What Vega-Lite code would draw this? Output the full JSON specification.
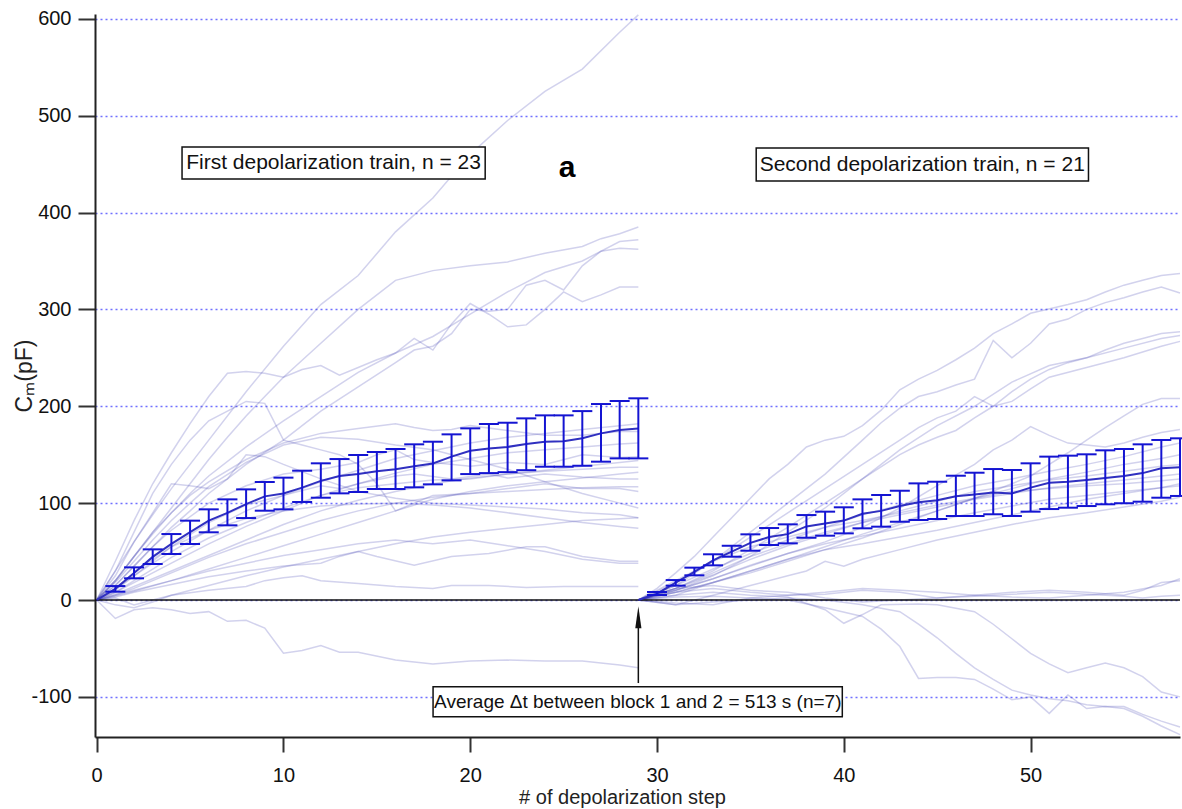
{
"$schema": "https://vega.github.io/schema/vega-lite/v6.json",
"width": 1085, "height": 723,
"autosize": {"type": "none"},
"padding": {"left": 95, "top": 14, "right": 2, "bottom": 72},
"background": "white",
"config": {"view": {"stroke": null}, "font": "Liberation Sans"},
"data": {"values": [{}]},
"datasets": {
"traces": [
{"s":"A","x":0,"y":0},{"s":"A","x":1,"y":30},{"s":"A","x":2,"y":60},{"s":"A","x":3,"y":88},{"s":"A","x":4,"y":115},{"s":"A","x":5,"y":140},{"s":"A","x":6,"y":165},{"s":"A","x":8,"y":215},{"s":"A","x":10,"y":262},{"s":"A","x":12,"y":305},{"s":"A","x":14,"y":335},{"s":"A","x":16,"y":380},{"s":"A","x":18,"y":415},{"s":"A","x":20,"y":460},{"s":"A","x":22,"y":495},{"s":"A","x":24,"y":525},{"s":"A","x":26,"y":548},{"s":"A","x":28,"y":586},{"s":"A","x":29,"y":604},
{"s":"B","x":0,"y":0},{"s":"B","x":1,"y":20},{"s":"B","x":2,"y":45},{"s":"B","x":3,"y":70},{"s":"B","x":4,"y":95},{"s":"B","x":5,"y":120},{"s":"B","x":6,"y":145},{"s":"B","x":7,"y":168},{"s":"B","x":8,"y":190},{"s":"B","x":9,"y":210},{"s":"B","x":10,"y":230},{"s":"B","x":12,"y":265},{"s":"B","x":14,"y":300},{"s":"B","x":16,"y":330},{"s":"B","x":18,"y":340},{"s":"B","x":20,"y":345},{"s":"B","x":22,"y":349},{"s":"B","x":24,"y":358},{"s":"B","x":26,"y":365},{"s":"B","x":27,"y":373},{"s":"B","x":28,"y":378},{"s":"B","x":29,"y":385},
{"s":"C","x":0,"y":0},{"s":"C","x":1,"y":40},{"s":"C","x":2,"y":82},{"s":"C","x":3,"y":120},{"s":"C","x":4,"y":152},{"s":"C","x":5,"y":182},{"s":"C","x":6,"y":210},{"s":"C","x":7,"y":234},{"s":"C","x":8,"y":236},{"s":"C","x":9,"y":234},{"s":"C","x":10,"y":230},{"s":"C","x":11,"y":238},{"s":"C","x":12,"y":242},{"s":"C","x":13,"y":232},{"s":"C","x":14,"y":240},{"s":"C","x":15,"y":248},{"s":"C","x":16,"y":255},{"s":"C","x":17,"y":270},{"s":"C","x":18,"y":258},{"s":"C","x":19,"y":285},{"s":"C","x":20,"y":306},{"s":"C","x":21,"y":295},{"s":"C","x":22,"y":282},{"s":"C","x":23,"y":284},{"s":"C","x":24,"y":300},{"s":"C","x":25,"y":318},{"s":"C","x":26,"y":308},{"s":"C","x":27,"y":315},{"s":"C","x":28,"y":323},{"s":"C","x":29,"y":323},
{"s":"D","x":0,"y":0},{"s":"D","x":1,"y":15},{"s":"D","x":2,"y":35},{"s":"D","x":3,"y":55},{"s":"D","x":4,"y":75},{"s":"D","x":5,"y":92},{"s":"D","x":6,"y":110},{"s":"D","x":8,"y":140},{"s":"D","x":10,"y":165},{"s":"D","x":12,"y":195},{"s":"D","x":14,"y":220},{"s":"D","x":16,"y":245},{"s":"D","x":17,"y":258},{"s":"D","x":18,"y":262},{"s":"D","x":19,"y":275},{"s":"D","x":20,"y":300},{"s":"D","x":21,"y":298},{"s":"D","x":22,"y":300},{"s":"D","x":23,"y":325},{"s":"D","x":24,"y":330},{"s":"D","x":25,"y":320},{"s":"D","x":26,"y":345},{"s":"D","x":27,"y":360},{"s":"D","x":28,"y":363},{"s":"D","x":29,"y":362},
{"s":"E","x":0,"y":0},{"s":"E","x":1,"y":20},{"s":"E","x":2,"y":45},{"s":"E","x":3,"y":68},{"s":"E","x":4,"y":90},{"s":"E","x":5,"y":110},{"s":"E","x":6,"y":128},{"s":"E","x":8,"y":158},{"s":"E","x":10,"y":185},{"s":"E","x":12,"y":210},{"s":"E","x":14,"y":235},{"s":"E","x":16,"y":255},{"s":"E","x":18,"y":272},{"s":"E","x":20,"y":295},{"s":"E","x":22,"y":318},{"s":"E","x":24,"y":338},{"s":"E","x":26,"y":350},{"s":"E","x":28,"y":370},{"s":"E","x":29,"y":372},
{"s":"F","x":0,"y":0},{"s":"F","x":1,"y":30},{"s":"F","x":2,"y":70},{"s":"F","x":3,"y":110},{"s":"F","x":4,"y":140},{"s":"F","x":5,"y":165},{"s":"F","x":6,"y":185},{"s":"F","x":7,"y":195},{"s":"F","x":8,"y":205},{"s":"F","x":9,"y":203},{"s":"F","x":10,"y":165},{"s":"F","x":11,"y":160},{"s":"F","x":12,"y":155},{"s":"F","x":13,"y":150},{"s":"F","x":14,"y":140},{"s":"F","x":15,"y":120},{"s":"F","x":16,"y":92},{"s":"F","x":17,"y":100},{"s":"F","x":18,"y":108},{"s":"F","x":20,"y":110},{"s":"F","x":22,"y":115},{"s":"F","x":24,"y":120},{"s":"F","x":26,"y":115},{"s":"F","x":28,"y":115},{"s":"F","x":29,"y":112},
{"s":"G","x":0,"y":0},{"s":"G","x":1,"y":18},{"s":"G","x":2,"y":40},{"s":"G","x":3,"y":62},{"s":"G","x":4,"y":82},{"s":"G","x":5,"y":100},{"s":"G","x":6,"y":117},{"s":"G","x":8,"y":142},{"s":"G","x":10,"y":160},{"s":"G","x":12,"y":168},{"s":"G","x":14,"y":166},{"s":"G","x":16,"y":160},{"s":"G","x":18,"y":155},{"s":"G","x":20,"y":145},{"s":"G","x":22,"y":135},{"s":"G","x":24,"y":122},{"s":"G","x":26,"y":110},{"s":"G","x":28,"y":100},{"s":"G","x":29,"y":95},
{"s":"H","x":0,"y":0},{"s":"H","x":1,"y":12},{"s":"H","x":2,"y":25},{"s":"H","x":3,"y":38},{"s":"H","x":4,"y":50},{"s":"H","x":6,"y":72},{"s":"H","x":8,"y":92},{"s":"H","x":10,"y":108},{"s":"H","x":12,"y":122},{"s":"H","x":14,"y":134},{"s":"H","x":16,"y":146},{"s":"H","x":18,"y":154},{"s":"H","x":20,"y":162},{"s":"H","x":22,"y":168},{"s":"H","x":24,"y":172},{"s":"H","x":26,"y":176},{"s":"H","x":28,"y":180},{"s":"H","x":29,"y":182},
{"s":"I","x":0,"y":0},{"s":"I","x":1,"y":20},{"s":"I","x":2,"y":45},{"s":"I","x":3,"y":70},{"s":"I","x":4,"y":90},{"s":"I","x":5,"y":108},{"s":"I","x":6,"y":122},{"s":"I","x":8,"y":145},{"s":"I","x":10,"y":162},{"s":"I","x":12,"y":172},{"s":"I","x":14,"y":177},{"s":"I","x":16,"y":182},{"s":"I","x":17,"y":178},{"s":"I","x":18,"y":175},{"s":"I","x":19,"y":176},{"s":"I","x":20,"y":180},{"s":"I","x":22,"y":175},{"s":"I","x":24,"y":170},{"s":"I","x":26,"y":170},{"s":"I","x":28,"y":174},{"s":"I","x":29,"y":174},
{"s":"J","x":0,"y":0},{"s":"J","x":1,"y":8},{"s":"J","x":2,"y":18},{"s":"J","x":4,"y":38},{"s":"J","x":6,"y":58},{"s":"J","x":8,"y":76},{"s":"J","x":10,"y":92},{"s":"J","x":12,"y":108},{"s":"J","x":14,"y":120},{"s":"J","x":16,"y":131},{"s":"J","x":18,"y":140},{"s":"J","x":20,"y":146},{"s":"J","x":22,"y":152},{"s":"J","x":24,"y":155},{"s":"J","x":26,"y":158},{"s":"J","x":28,"y":161},{"s":"J","x":29,"y":162},
{"s":"K","x":0,"y":0},{"s":"K","x":1,"y":15},{"s":"K","x":2,"y":35},{"s":"K","x":3,"y":55},{"s":"K","x":4,"y":72},{"s":"K","x":6,"y":100},{"s":"K","x":8,"y":118},{"s":"K","x":10,"y":130},{"s":"K","x":12,"y":135},{"s":"K","x":14,"y":142},{"s":"K","x":15,"y":150},{"s":"K","x":16,"y":155},{"s":"K","x":17,"y":145},{"s":"K","x":18,"y":142},{"s":"K","x":20,"y":138},{"s":"K","x":22,"y":142},{"s":"K","x":24,"y":140},{"s":"K","x":26,"y":150},{"s":"K","x":28,"y":147},{"s":"K","x":29,"y":148},
{"s":"L","x":0,"y":0},{"s":"L","x":1,"y":6},{"s":"L","x":2,"y":14},{"s":"L","x":4,"y":30},{"s":"L","x":6,"y":46},{"s":"L","x":8,"y":62},{"s":"L","x":10,"y":78},{"s":"L","x":12,"y":92},{"s":"L","x":14,"y":103},{"s":"L","x":16,"y":112},{"s":"L","x":18,"y":120},{"s":"L","x":20,"y":126},{"s":"L","x":22,"y":130},{"s":"L","x":24,"y":133},{"s":"L","x":26,"y":135},{"s":"L","x":28,"y":137},{"s":"L","x":29,"y":137},
{"s":"M","x":0,"y":0},{"s":"M","x":1,"y":10},{"s":"M","x":2,"y":25},{"s":"M","x":3,"y":40},{"s":"M","x":4,"y":55},{"s":"M","x":6,"y":80},{"s":"M","x":8,"y":98},{"s":"M","x":10,"y":108},{"s":"M","x":12,"y":118},{"s":"M","x":13,"y":115},{"s":"M","x":14,"y":120},{"s":"M","x":16,"y":128},{"s":"M","x":17,"y":130},{"s":"M","x":19,"y":125},{"s":"M","x":21,"y":130},{"s":"M","x":22,"y":126},{"s":"M","x":24,"y":130},{"s":"M","x":26,"y":127},{"s":"M","x":28,"y":125},{"s":"M","x":29,"y":125},
{"s":"N","x":0,"y":0},{"s":"N","x":1,"y":5},{"s":"N","x":2,"y":12},{"s":"N","x":4,"y":28},{"s":"N","x":6,"y":44},{"s":"N","x":8,"y":58},{"s":"N","x":10,"y":70},{"s":"N","x":12,"y":82},{"s":"N","x":14,"y":92},{"s":"N","x":16,"y":100},{"s":"N","x":18,"y":106},{"s":"N","x":20,"y":110},{"s":"N","x":22,"y":112},{"s":"N","x":24,"y":114},{"s":"N","x":26,"y":116},{"s":"N","x":28,"y":117},{"s":"N","x":29,"y":117},
{"s":"O","x":0,"y":0},{"s":"O","x":1,"y":25},{"s":"O","x":2,"y":60},{"s":"O","x":3,"y":90},{"s":"O","x":4,"y":120},{"s":"O","x":5,"y":118},{"s":"O","x":6,"y":115},{"s":"O","x":7,"y":125},{"s":"O","x":8,"y":150},{"s":"O","x":9,"y":148},{"s":"O","x":10,"y":140},{"s":"O","x":12,"y":125},{"s":"O","x":14,"y":112},{"s":"O","x":16,"y":105},{"s":"O","x":18,"y":100},{"s":"O","x":20,"y":98},{"s":"O","x":22,"y":96},{"s":"O","x":24,"y":94},{"s":"O","x":26,"y":90},{"s":"O","x":28,"y":88},{"s":"O","x":29,"y":85},
{"s":"P","x":0,"y":0},{"s":"P","x":1,"y":12},{"s":"P","x":2,"y":28},{"s":"P","x":3,"y":42},{"s":"P","x":4,"y":55},{"s":"P","x":6,"y":72},{"s":"P","x":8,"y":84},{"s":"P","x":10,"y":92},{"s":"P","x":12,"y":97},{"s":"P","x":14,"y":99},{"s":"P","x":16,"y":100},{"s":"P","x":18,"y":98},{"s":"P","x":20,"y":95},{"s":"P","x":22,"y":90},{"s":"P","x":24,"y":85},{"s":"P","x":26,"y":80},{"s":"P","x":28,"y":76},{"s":"P","x":29,"y":74},
{"s":"Q","x":0,"y":0},{"s":"Q","x":1,"y":5},{"s":"Q","x":2,"y":10},{"s":"Q","x":4,"y":20},{"s":"Q","x":6,"y":30},{"s":"Q","x":8,"y":38},{"s":"Q","x":10,"y":46},{"s":"Q","x":12,"y":52},{"s":"Q","x":14,"y":58},{"s":"Q","x":16,"y":62},{"s":"Q","x":17,"y":60},{"s":"Q","x":18,"y":58},{"s":"Q","x":20,"y":62},{"s":"Q","x":22,"y":56},{"s":"Q","x":24,"y":50},{"s":"Q","x":26,"y":42},{"s":"Q","x":28,"y":38},{"s":"Q","x":29,"y":38},
{"s":"R","x":0,"y":0},{"s":"R","x":1,"y":3},{"s":"R","x":2,"y":8},{"s":"R","x":4,"y":16},{"s":"R","x":6,"y":24},{"s":"R","x":8,"y":30},{"s":"R","x":10,"y":35},{"s":"R","x":12,"y":38},{"s":"R","x":13,"y":45},{"s":"R","x":14,"y":50},{"s":"R","x":15,"y":45},{"s":"R","x":17,"y":36},{"s":"R","x":19,"y":45},{"s":"R","x":21,"y":48},{"s":"R","x":23,"y":55},{"s":"R","x":24,"y":55},{"s":"R","x":26,"y":45},{"s":"R","x":28,"y":40},{"s":"R","x":29,"y":40},
{"s":"S","x":0,"y":0},{"s":"S","x":1,"y":2},{"s":"S","x":2,"y":-5},{"s":"S","x":3,"y":0},{"s":"S","x":4,"y":5},{"s":"S","x":6,"y":10},{"s":"S","x":8,"y":14},{"s":"S","x":9,"y":20},{"s":"S","x":10,"y":23},{"s":"S","x":11,"y":25},{"s":"S","x":12,"y":20},{"s":"S","x":14,"y":17},{"s":"S","x":16,"y":14},{"s":"S","x":18,"y":12},{"s":"S","x":19,"y":15},{"s":"S","x":21,"y":15},{"s":"S","x":23,"y":13},{"s":"S","x":25,"y":14},{"s":"S","x":27,"y":14},{"s":"S","x":29,"y":14},
{"s":"T","x":0,"y":0},{"s":"T","x":1,"y":-19},{"s":"T","x":2,"y":-10},{"s":"T","x":3,"y":-8},{"s":"T","x":4,"y":-10},{"s":"T","x":5,"y":-14},{"s":"T","x":6,"y":-12},{"s":"T","x":7,"y":-22},{"s":"T","x":8,"y":-21},{"s":"T","x":9,"y":-29},{"s":"T","x":10,"y":-55},{"s":"T","x":11,"y":-52},{"s":"T","x":12,"y":-47},{"s":"T","x":13,"y":-54},{"s":"T","x":14,"y":-54},{"s":"T","x":16,"y":-62},{"s":"T","x":18,"y":-66},{"s":"T","x":20,"y":-63},{"s":"T","x":22,"y":-62},{"s":"T","x":24,"y":-63},{"s":"T","x":26,"y":-63},{"s":"T","x":28,"y":-67},{"s":"T","x":29,"y":-70},
{"s":"U","x":0,"y":0},{"s":"U","x":1,"y":-5},{"s":"U","x":2,"y":-8},{"s":"U","x":3,"y":-2},{"s":"U","x":4,"y":5},{"s":"U","x":6,"y":15},{"s":"U","x":8,"y":25},{"s":"U","x":10,"y":34},{"s":"U","x":12,"y":42},{"s":"U","x":14,"y":50},{"s":"U","x":16,"y":58},{"s":"U","x":18,"y":65},{"s":"U","x":20,"y":70},{"s":"U","x":22,"y":74},{"s":"U","x":24,"y":78},{"s":"U","x":26,"y":82},{"s":"U","x":28,"y":84},{"s":"U","x":29,"y":85},
{"s":"V","x":0,"y":0},{"s":"V","x":1,"y":4},{"s":"V","x":2,"y":9},{"s":"V","x":4,"y":20},{"s":"V","x":6,"y":32},{"s":"V","x":8,"y":44},{"s":"V","x":10,"y":56},{"s":"V","x":12,"y":68},{"s":"V","x":14,"y":80},{"s":"V","x":16,"y":92},{"s":"V","x":18,"y":104},{"s":"V","x":20,"y":112},{"s":"V","x":22,"y":118},{"s":"V","x":24,"y":122},{"s":"V","x":26,"y":126},{"s":"V","x":28,"y":130},{"s":"V","x":29,"y":132},
{"s":"W","x":0,"y":0},{"s":"W","x":1,"y":8},{"s":"W","x":2,"y":20},{"s":"W","x":3,"y":32},{"s":"W","x":4,"y":44},{"s":"W","x":6,"y":64},{"s":"W","x":8,"y":80},{"s":"W","x":10,"y":95},{"s":"W","x":12,"y":108},{"s":"W","x":14,"y":116},{"s":"W","x":16,"y":120},{"s":"W","x":18,"y":124},{"s":"W","x":20,"y":125},{"s":"W","x":22,"y":130},{"s":"W","x":24,"y":134},{"s":"W","x":26,"y":138},{"s":"W","x":28,"y":142},{"s":"W","x":29,"y":144},
{"s":"N1","x":29,"y":0},{"s":"N1","x":31,"y":5},{"s":"N1","x":33,"y":8},{"s":"N1","x":35,"y":5},{"s":"N1","x":37,"y":3},{"s":"N1","x":39,"y":-10},{"s":"N1","x":40,"y":-24},{"s":"N1","x":41,"y":-15},{"s":"N1","x":42,"y":-5},{"s":"N1","x":44,"y":-4},{"s":"N1","x":45,"y":-5},{"s":"N1","x":47,"y":-12},{"s":"N1","x":48,"y":-25},{"s":"N1","x":49,"y":-40},{"s":"N1","x":50,"y":-55},{"s":"N1","x":51,"y":-66},{"s":"N1","x":52,"y":-75},{"s":"N1","x":53,"y":-70},{"s":"N1","x":54,"y":-65},{"s":"N1","x":55,"y":-70},{"s":"N1","x":56,"y":-79},{"s":"N1","x":57,"y":-95},{"s":"N1","x":58,"y":-100},
{"s":"N2","x":29,"y":0},{"s":"N2","x":31,"y":3},{"s":"N2","x":33,"y":4},{"s":"N2","x":35,"y":2},{"s":"N2","x":37,"y":0},{"s":"N2","x":39,"y":-8},{"s":"N2","x":41,"y":-17},{"s":"N2","x":42,"y":-30},{"s":"N2","x":43,"y":-48},{"s":"N2","x":44,"y":-81},{"s":"N2","x":45,"y":-80},{"s":"N2","x":46,"y":-80},{"s":"N2","x":47,"y":-82},{"s":"N2","x":48,"y":-92},{"s":"N2","x":49,"y":-103},{"s":"N2","x":50,"y":-100},{"s":"N2","x":51,"y":-117},{"s":"N2","x":52,"y":-98},{"s":"N2","x":53,"y":-112},{"s":"N2","x":54,"y":-110},{"s":"N2","x":55,"y":-112},{"s":"N2","x":56,"y":-120},{"s":"N2","x":57,"y":-130},{"s":"N2","x":58,"y":-139},
{"s":"N3","x":29,"y":0},{"s":"N3","x":31,"y":-5},{"s":"N3","x":33,"y":-2},{"s":"N3","x":35,"y":0},{"s":"N3","x":37,"y":2},{"s":"N3","x":39,"y":0},{"s":"N3","x":41,"y":-5},{"s":"N3","x":43,"y":-12},{"s":"N3","x":44,"y":-25},{"s":"N3","x":45,"y":-39},{"s":"N3","x":46,"y":-55},{"s":"N3","x":47,"y":-70},{"s":"N3","x":48,"y":-82},{"s":"N3","x":49,"y":-93},{"s":"N3","x":50,"y":-98},{"s":"N3","x":51,"y":-102},{"s":"N3","x":52,"y":-104},{"s":"N3","x":53,"y":-108},{"s":"N3","x":54,"y":-110},{"s":"N3","x":55,"y":-110},{"s":"N3","x":56,"y":-118},{"s":"N3","x":57,"y":-125},{"s":"N3","x":58,"y":-131},
{"s":"Z1","x":29,"y":0},{"s":"Z1","x":31,"y":-3},{"s":"Z1","x":33,"y":-5},{"s":"Z1","x":35,"y":2},{"s":"Z1","x":37,"y":5},{"s":"Z1","x":39,"y":8},{"s":"Z1","x":41,"y":12},{"s":"Z1","x":43,"y":10},{"s":"Z1","x":45,"y":8},{"s":"Z1","x":47,"y":5},{"s":"Z1","x":49,"y":8},{"s":"Z1","x":51,"y":10},{"s":"Z1","x":53,"y":8},{"s":"Z1","x":55,"y":5},{"s":"Z1","x":56,"y":10},{"s":"Z1","x":57,"y":18},{"s":"Z1","x":58,"y":20},
{"s":"Z2","x":29,"y":0},{"s":"Z2","x":31,"y":8},{"s":"Z2","x":33,"y":12},{"s":"Z2","x":35,"y":8},{"s":"Z2","x":37,"y":5},{"s":"Z2","x":39,"y":6},{"s":"Z2","x":41,"y":10},{"s":"Z2","x":43,"y":8},{"s":"Z2","x":45,"y":2},{"s":"Z2","x":47,"y":4},{"s":"Z2","x":49,"y":6},{"s":"Z2","x":51,"y":8},{"s":"Z2","x":53,"y":6},{"s":"Z2","x":55,"y":4},{"s":"Z2","x":56,"y":2},{"s":"Z2","x":57,"y":4},{"s":"Z2","x":58,"y":5},
{"s":"Z3","x":29,"y":0},{"s":"Z3","x":31,"y":12},{"s":"Z3","x":33,"y":15},{"s":"Z3","x":35,"y":10},{"s":"Z3","x":37,"y":8},{"s":"Z3","x":39,"y":2},{"s":"Z3","x":41,"y":-2},{"s":"Z3","x":43,"y":0},{"s":"Z3","x":45,"y":2},{"s":"Z3","x":47,"y":5},{"s":"Z3","x":49,"y":3},{"s":"Z3","x":51,"y":2},{"s":"Z3","x":53,"y":5},{"s":"Z3","x":55,"y":8},{"s":"Z3","x":57,"y":15},{"s":"Z3","x":58,"y":22},
{"s":"U1","x":29,"y":0},{"s":"U1","x":30,"y":12},{"s":"U1","x":31,"y":28},{"s":"U1","x":32,"y":45},{"s":"U1","x":33,"y":65},{"s":"U1","x":34,"y":85},{"s":"U1","x":35,"y":105},{"s":"U1","x":36,"y":125},{"s":"U1","x":37,"y":140},{"s":"U1","x":38,"y":158},{"s":"U1","x":39,"y":165},{"s":"U1","x":40,"y":169},{"s":"U1","x":41,"y":180},{"s":"U1","x":42,"y":196},{"s":"U1","x":43,"y":217},{"s":"U1","x":44,"y":228},{"s":"U1","x":45,"y":237},{"s":"U1","x":46,"y":248},{"s":"U1","x":47,"y":260},{"s":"U1","x":48,"y":275},{"s":"U1","x":49,"y":285},{"s":"U1","x":50,"y":296},{"s":"U1","x":52,"y":305},{"s":"U1","x":53,"y":310},{"s":"U1","x":54,"y":318},{"s":"U1","x":55,"y":325},{"s":"U1","x":56,"y":330},{"s":"U1","x":57,"y":335},{"s":"U1","x":58,"y":337},
{"s":"U2","x":29,"y":0},{"s":"U2","x":31,"y":15},{"s":"U2","x":33,"y":40},{"s":"U2","x":35,"y":70},{"s":"U2","x":37,"y":100},{"s":"U2","x":39,"y":130},{"s":"U2","x":41,"y":165},{"s":"U2","x":42,"y":183},{"s":"U2","x":43,"y":198},{"s":"U2","x":44,"y":210},{"s":"U2","x":45,"y":215},{"s":"U2","x":46,"y":222},{"s":"U2","x":47,"y":228},{"s":"U2","x":48,"y":268},{"s":"U2","x":49,"y":250},{"s":"U2","x":50,"y":265},{"s":"U2","x":51,"y":285},{"s":"U2","x":52,"y":290},{"s":"U2","x":53,"y":300},{"s":"U2","x":54,"y":307},{"s":"U2","x":55,"y":312},{"s":"U2","x":56,"y":318},{"s":"U2","x":57,"y":323},{"s":"U2","x":58,"y":317},
{"s":"U3","x":29,"y":0},{"s":"U3","x":31,"y":12},{"s":"U3","x":33,"y":30},{"s":"U3","x":35,"y":52},{"s":"U3","x":37,"y":75},{"s":"U3","x":39,"y":100},{"s":"U3","x":41,"y":125},{"s":"U3","x":43,"y":150},{"s":"U3","x":44,"y":160},{"s":"U3","x":45,"y":168},{"s":"U3","x":46,"y":175},{"s":"U3","x":47,"y":188},{"s":"U3","x":48,"y":200},{"s":"U3","x":49,"y":215},{"s":"U3","x":50,"y":228},{"s":"U3","x":51,"y":238},{"s":"U3","x":52,"y":245},{"s":"U3","x":53,"y":250},{"s":"U3","x":54,"y":258},{"s":"U3","x":55,"y":265},{"s":"U3","x":56,"y":270},{"s":"U3","x":57,"y":275},{"s":"U3","x":58,"y":277},
{"s":"U4","x":29,"y":0},{"s":"U4","x":31,"y":10},{"s":"U4","x":33,"y":25},{"s":"U4","x":35,"y":45},{"s":"U4","x":37,"y":70},{"s":"U4","x":39,"y":95},{"s":"U4","x":41,"y":125},{"s":"U4","x":43,"y":155},{"s":"U4","x":45,"y":180},{"s":"U4","x":47,"y":200},{"s":"U4","x":49,"y":225},{"s":"U4","x":51,"y":242},{"s":"U4","x":53,"y":250},{"s":"U4","x":55,"y":260},{"s":"U4","x":57,"y":270},{"s":"U4","x":58,"y":273},
{"s":"U5","x":29,"y":0},{"s":"U5","x":31,"y":18},{"s":"U5","x":33,"y":40},{"s":"U5","x":35,"y":65},{"s":"U5","x":37,"y":90},{"s":"U5","x":39,"y":115},{"s":"U5","x":41,"y":140},{"s":"U5","x":43,"y":165},{"s":"U5","x":44,"y":178},{"s":"U5","x":45,"y":188},{"s":"U5","x":46,"y":195},{"s":"U5","x":47,"y":210},{"s":"U5","x":48,"y":200},{"s":"U5","x":49,"y":205},{"s":"U5","x":50,"y":218},{"s":"U5","x":51,"y":230},{"s":"U5","x":53,"y":240},{"s":"U5","x":55,"y":250},{"s":"U5","x":57,"y":262},{"s":"U5","x":58,"y":267},
{"s":"M1","x":29,"y":0},{"s":"M1","x":31,"y":8},{"s":"M1","x":33,"y":18},{"s":"M1","x":35,"y":30},{"s":"M1","x":37,"y":42},{"s":"M1","x":39,"y":55},{"s":"M1","x":41,"y":68},{"s":"M1","x":43,"y":80},{"s":"M1","x":45,"y":92},{"s":"M1","x":47,"y":105},{"s":"M1","x":49,"y":120},{"s":"M1","x":50,"y":128},{"s":"M1","x":51,"y":140},{"s":"M1","x":52,"y":152},{"s":"M1","x":53,"y":165},{"s":"M1","x":54,"y":178},{"s":"M1","x":55,"y":190},{"s":"M1","x":56,"y":202},{"s":"M1","x":57,"y":208},{"s":"M1","x":58,"y":208},
{"s":"M2","x":29,"y":0},{"s":"M2","x":31,"y":10},{"s":"M2","x":33,"y":22},{"s":"M2","x":35,"y":35},{"s":"M2","x":37,"y":48},{"s":"M2","x":39,"y":60},{"s":"M2","x":41,"y":75},{"s":"M2","x":43,"y":95},{"s":"M2","x":45,"y":118},{"s":"M2","x":47,"y":140},{"s":"M2","x":48,"y":155},{"s":"M2","x":49,"y":165},{"s":"M2","x":50,"y":179},{"s":"M2","x":51,"y":170},{"s":"M2","x":52,"y":162},{"s":"M2","x":53,"y":160},{"s":"M2","x":54,"y":158},{"s":"M2","x":55,"y":162},{"s":"M2","x":56,"y":168},{"s":"M2","x":57,"y":173},{"s":"M2","x":58,"y":176},
{"s":"M3","x":29,"y":0},{"s":"M3","x":31,"y":15},{"s":"M3","x":33,"y":32},{"s":"M3","x":35,"y":48},{"s":"M3","x":37,"y":62},{"s":"M3","x":39,"y":75},{"s":"M3","x":41,"y":88},{"s":"M3","x":43,"y":98},{"s":"M3","x":45,"y":108},{"s":"M3","x":47,"y":118},{"s":"M3","x":49,"y":125},{"s":"M3","x":51,"y":133},{"s":"M3","x":53,"y":140},{"s":"M3","x":55,"y":148},{"s":"M3","x":57,"y":158},{"s":"M3","x":58,"y":162},
{"s":"M4","x":29,"y":0},{"s":"M4","x":31,"y":12},{"s":"M4","x":33,"y":28},{"s":"M4","x":35,"y":45},{"s":"M4","x":37,"y":58},{"s":"M4","x":39,"y":70},{"s":"M4","x":41,"y":80},{"s":"M4","x":43,"y":88},{"s":"M4","x":45,"y":96},{"s":"M4","x":47,"y":104},{"s":"M4","x":49,"y":110},{"s":"M4","x":51,"y":116},{"s":"M4","x":53,"y":120},{"s":"M4","x":55,"y":124},{"s":"M4","x":57,"y":128},{"s":"M4","x":58,"y":130},
{"s":"M5","x":29,"y":0},{"s":"M5","x":31,"y":20},{"s":"M5","x":33,"y":40},{"s":"M5","x":35,"y":55},{"s":"M5","x":37,"y":65},{"s":"M5","x":39,"y":75},{"s":"M5","x":41,"y":82},{"s":"M5","x":43,"y":90},{"s":"M5","x":45,"y":98},{"s":"M5","x":47,"y":105},{"s":"M5","x":49,"y":112},{"s":"M5","x":51,"y":115},{"s":"M5","x":53,"y":118},{"s":"M5","x":55,"y":120},{"s":"M5","x":57,"y":123},{"s":"M5","x":58,"y":125},
{"s":"M6","x":29,"y":0},{"s":"M6","x":31,"y":10},{"s":"M6","x":33,"y":22},{"s":"M6","x":35,"y":36},{"s":"M6","x":37,"y":48},{"s":"M6","x":39,"y":58},{"s":"M6","x":41,"y":66},{"s":"M6","x":43,"y":74},{"s":"M6","x":45,"y":82},{"s":"M6","x":47,"y":90},{"s":"M6","x":49,"y":97},{"s":"M6","x":51,"y":104},{"s":"M6","x":53,"y":108},{"s":"M6","x":55,"y":112},{"s":"M6","x":57,"y":116},{"s":"M6","x":58,"y":118},
{"s":"M7","x":29,"y":0},{"s":"M7","x":31,"y":-5},{"s":"M7","x":33,"y":5},{"s":"M7","x":35,"y":15},{"s":"M7","x":37,"y":25},{"s":"M7","x":38,"y":30},{"s":"M7","x":39,"y":40},{"s":"M7","x":40,"y":35},{"s":"M7","x":41,"y":42},{"s":"M7","x":43,"y":52},{"s":"M7","x":45,"y":62},{"s":"M7","x":47,"y":70},{"s":"M7","x":49,"y":78},{"s":"M7","x":51,"y":85},{"s":"M7","x":53,"y":90},{"s":"M7","x":55,"y":96},{"s":"M7","x":57,"y":102},{"s":"M7","x":58,"y":106},
{"s":"M8","x":29,"y":0},{"s":"M8","x":31,"y":5},{"s":"M8","x":33,"y":18},{"s":"M8","x":35,"y":30},{"s":"M8","x":37,"y":42},{"s":"M8","x":39,"y":52},{"s":"M8","x":41,"y":58},{"s":"M8","x":43,"y":65},{"s":"M8","x":45,"y":72},{"s":"M8","x":47,"y":80},{"s":"M8","x":49,"y":88},{"s":"M8","x":51,"y":96},{"s":"M8","x":53,"y":104},{"s":"M8","x":55,"y":110},{"s":"M8","x":57,"y":116},{"s":"M8","x":58,"y":120},
{"s":"M9","x":29,"y":0},{"s":"M9","x":31,"y":12},{"s":"M9","x":33,"y":26},{"s":"M9","x":35,"y":42},{"s":"M9","x":37,"y":56},{"s":"M9","x":39,"y":68},{"s":"M9","x":41,"y":80},{"s":"M9","x":43,"y":92},{"s":"M9","x":45,"y":102},{"s":"M9","x":47,"y":112},{"s":"M9","x":49,"y":118},{"s":"M9","x":51,"y":124},{"s":"M9","x":53,"y":128},{"s":"M9","x":55,"y":133},{"s":"M9","x":57,"y":138},{"s":"M9","x":58,"y":140},
{"s":"M10","x":29,"y":0},{"s":"M10","x":31,"y":8},{"s":"M10","x":33,"y":18},{"s":"M10","x":35,"y":28},{"s":"M10","x":37,"y":40},{"s":"M10","x":39,"y":52},{"s":"M10","x":41,"y":64},{"s":"M10","x":43,"y":78},{"s":"M10","x":45,"y":92},{"s":"M10","x":47,"y":105},{"s":"M10","x":49,"y":115},{"s":"M10","x":51,"y":125},{"s":"M10","x":53,"y":132},{"s":"M10","x":55,"y":140},{"s":"M10","x":57,"y":146},{"s":"M10","x":58,"y":150}
],
"mean": [
{"b":1,"x":0,"m":0,"lo":null,"hi":null},{"b":1,"x":1,"m":11.5,"lo":8.6,"hi":14.4},{"b":1,"x":2,"m":28,"lo":22.4,"hi":33.7},{"b":1,"x":3,"m":44.5,"lo":37.2,"hi":52.3},{"b":1,"x":4,"m":58,"lo":47.5,"hi":68.1},{"b":1,"x":5,"m":70,"lo":57.8,"hi":81.9},{"b":1,"x":6,"m":82,"lo":69.9,"hi":93.6},{"b":1,"x":7,"m":90,"lo":77.1,"hi":103.9},{"b":1,"x":8,"m":99,"lo":84.6,"hi":114.2},{"b":1,"x":9,"m":107,"lo":92.2,"hi":121.8},{"b":1,"x":10,"m":110,"lo":93.6,"hi":126.3},{"b":1,"x":11,"m":116,"lo":101.2,"hi":133.5},{"b":1,"x":12,"m":123,"lo":105.6,"hi":141.1},{"b":1,"x":13,"m":128,"lo":110.1,"hi":145.5},{"b":1,"x":14,"m":130,"lo":111.5,"hi":149.7},{"b":1,"x":15,"m":133,"lo":114.6,"hi":152.8},{"b":1,"x":16,"m":135,"lo":114.6,"hi":155.9},{"b":1,"x":17,"m":138,"lo":116.3,"hi":160.7},{"b":1,"x":18,"m":141,"lo":119.4,"hi":163.4},{"b":1,"x":19,"m":148,"lo":123.5,"hi":171},{"b":1,"x":20,"m":154,"lo":130,"hi":177.2},{"b":1,"x":21,"m":156.5,"lo":131,"hi":181.7},{"b":1,"x":22,"m":158,"lo":132,"hi":183},{"b":1,"x":23,"m":161,"lo":134,"hi":187.5},{"b":1,"x":24,"m":163.4,"lo":137.6,"hi":190.6},{"b":1,"x":25,"m":164,"lo":137.6,"hi":190.6},{"b":1,"x":26,"m":167,"lo":138.6,"hi":195},{"b":1,"x":27,"m":172,"lo":142.8,"hi":202.3},{"b":1,"x":28,"m":175.5,"lo":146.2,"hi":205.4},{"b":1,"x":29,"m":177,"lo":146.2,"hi":208.2},
{"b":2,"x":29,"m":0,"lo":null,"hi":null},{"b":2,"x":30,"m":6.5,"lo":5.2,"hi":8.3},{"b":2,"x":31,"m":18,"lo":14.8,"hi":20.6},{"b":2,"x":32,"m":29,"lo":25.5,"hi":33.4},{"b":2,"x":33,"m":41,"lo":35.8,"hi":47.2},{"b":2,"x":34,"m":50,"lo":44.7,"hi":56},{"b":2,"x":35,"m":59,"lo":50.9,"hi":67.8},{"b":2,"x":36,"m":65,"lo":56.8,"hi":74.3},{"b":2,"x":37,"m":68,"lo":58.5,"hi":78.1},{"b":2,"x":38,"m":76,"lo":64.3,"hi":87.7},{"b":2,"x":39,"m":79,"lo":66.4,"hi":91.2},{"b":2,"x":40,"m":82,"lo":68.8,"hi":95.7},{"b":2,"x":41,"m":89,"lo":74,"hi":103.9},{"b":2,"x":42,"m":92,"lo":75.7,"hi":108.4},{"b":2,"x":43,"m":97,"lo":80.8,"hi":112.8},{"b":2,"x":44,"m":101,"lo":82.6,"hi":120.4},{"b":2,"x":45,"m":103,"lo":83.6,"hi":122.1},{"b":2,"x":46,"m":107,"lo":86.7,"hi":128.3},{"b":2,"x":47,"m":109,"lo":86.7,"hi":131.4},{"b":2,"x":48,"m":111,"lo":88.5,"hi":135.2},{"b":2,"x":49,"m":110,"lo":86.7,"hi":134.2},{"b":2,"x":50,"m":116,"lo":91.2,"hi":141.1},{"b":2,"x":51,"m":121,"lo":93.9,"hi":148},{"b":2,"x":52,"m":122,"lo":95.3,"hi":149},{"b":2,"x":53,"m":124,"lo":97,"hi":150.4},{"b":2,"x":54,"m":126,"lo":98.8,"hi":154.5},{"b":2,"x":55,"m":128,"lo":99.8,"hi":155.9},{"b":2,"x":56,"m":131,"lo":101.5,"hi":160.7},{"b":2,"x":57,"m":136,"lo":105.6,"hi":165.2},{"b":2,"x":58,"m":137,"lo":107.4,"hi":166.9}
]
},
"layer": [
{
"data": {"name": "traces"},
"mark": {"type": "line", "stroke": "#4a4ab8", "strokeOpacity": 0.25, "strokeWidth": 1.5},
"encoding": {
"x": {"field": "x", "type": "quantitative",
"scale": {"domain": [-0.09, 58], "nice": false, "zero": false},
"axis": {"values": [0, 10, 20, 30, 40, 50], "title": "# of depolarization step", "titleFontSize": 20, "titleFontWeight": "normal", "titleColor": "#222", "titlePadding": 2, "titleX": 527, "labelFontSize": 20, "labelColor": "#111", "labelPadding": 13, "labelFlush": false, "tickSize": 15, "tickWidth": 2, "tickColor": "#333", "domainColor": "#222", "domainWidth": 2, "grid": false}},
"y": {"field": "y", "type": "quantitative",
"scale": {"domain": [-141.4, 604.9], "nice": false, "zero": false},
"axis": {"values": [-100, 0, 100, 200, 300, 400, 500, 600], "labelExpr": "datum.value < 0 ? '-' + abs(datum.value) : '' + datum.value", "title": "Cₘ(pF)", "titleFontSize": 23, "titleFontWeight": "normal", "titleColor": "#222", "titlePadding": -6, "labelFontSize": 20, "labelColor": "#111", "labelPadding": 7, "labelFlush": false, "tickSize": 17, "tickWidth": 2, "tickColor": "#333", "domainColor": "#222", "domainWidth": 2, "grid": true, "gridColor": "#7070ff", "gridDash": [2, 3], "gridWidth": 1.5}},
"detail": {"field": "s"}
}
},
{"mark": {"type": "rule", "color": "#111", "strokeWidth": 1.5}, "encoding": {"y": {"datum": 0}}},
{
"data": {"name": "mean"},
"mark": {"type": "line", "color": "#3030c0", "strokeWidth": 2},
"encoding": {"x": {"field": "x", "type": "quantitative"}, "y": {"field": "m", "type": "quantitative"}, "detail": {"field": "b"}}
},
{
"data": {"name": "mean"},
"transform": [{"filter": "datum.lo != null"}],
"mark": {"type": "rule", "color": "#1414d2", "strokeWidth": 2},
"encoding": {"x": {"field": "x", "type": "quantitative"}, "y": {"field": "lo", "type": "quantitative"}, "y2": {"field": "hi"}}
},
{
"data": {"name": "mean"},
"transform": [{"filter": "datum.lo != null"}],
"mark": {"type": "tick", "orient": "horizontal", "size": 20, "thickness": 2, "color": "#1414d2", "opacity": 1},
"encoding": {"x": {"field": "x", "type": "quantitative"}, "y": {"field": "lo", "type": "quantitative"}}
},
{
"data": {"name": "mean"},
"transform": [{"filter": "datum.lo != null"}],
"mark": {"type": "tick", "orient": "horizontal", "size": 20, "thickness": 2, "color": "#1414d2", "opacity": 1},
"encoding": {"x": {"field": "x", "type": "quantitative"}, "y": {"field": "hi", "type": "quantitative"}}
},
{"mark": {"type": "rule", "color": "#111", "strokeWidth": 1.5}, "encoding": {"x": {"datum": 29}, "y": {"datum": -85.7}, "y2": {"datum": -26}}},
{"mark": {"type": "point", "shape": "M -0.28 1 L 0 -1 L 0.28 1 Z", "size": 484, "filled": true, "color": "#111", "opacity": 1}, "encoding": {"x": {"datum": 29}, "y": {"datum": -17.9}}},
{"mark": {"type": "rect", "fill": "white", "stroke": "#111", "strokeWidth": 1.5}, "encoding": {"x": {"datum": 4.57}, "x2": {"datum": 20.8}, "y": {"datum": 467.6}, "y2": {"datum": 434.6}}},
{"mark": {"type": "rect", "fill": "white", "stroke": "#111", "strokeWidth": 1.5}, "encoding": {"x": {"datum": 35.31}, "x2": {"datum": 53.1}, "y": {"datum": 466.6}, "y2": {"datum": 432.5}}},
{"mark": {"type": "rect", "fill": "white", "stroke": "#111", "strokeWidth": 1.5}, "encoding": {"x": {"datum": 18.01}, "x2": {"datum": 39.92}, "y": {"datum": -89.5}, "y2": {"datum": -120.5}}},
{"mark": {"type": "text", "text": "First depolarization train, n = 23", "fontSize": 21, "color": "#111", "align": "center", "baseline": "middle"}, "encoding": {"x": {"datum": 12.68}, "y": {"datum": 451.1}}},
{"mark": {"type": "text", "text": "Second depolarization train, n = 21", "fontSize": 21, "color": "#111", "align": "center", "baseline": "middle"}, "encoding": {"x": {"datum": 44.2}, "y": {"datum": 449.5}}},
{"mark": {"type": "text", "text": "Average Δt between block 1 and 2 = 513 s (n=7)", "fontSize": 19, "color": "#111", "align": "center", "baseline": "middle"}, "encoding": {"x": {"datum": 28.97}, "y": {"datum": -105}}},
{"mark": {"type": "text", "text": "a", "fontSize": 30, "fontWeight": "bold", "color": "#000", "align": "center", "baseline": "alphabetic"}, "encoding": {"x": {"datum": 25.19}, "y": {"datum": 436.6}}}
]
}
